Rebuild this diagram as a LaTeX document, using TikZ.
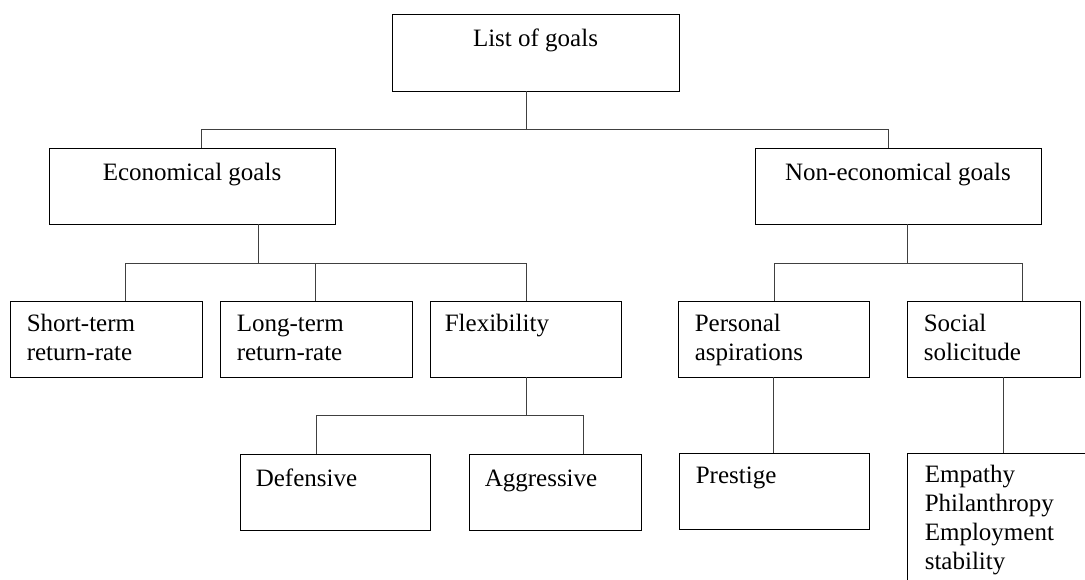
\documentclass[tikz,border=0pt]{standalone}
\usepackage{fontspec}
\setmainfont{Liberation Serif}
\usetikzlibrary{calc}
\begin{document}
\begin{tikzpicture}[x=1pt,y=-1pt,
  box/.style={draw=black, line width=0.8pt, inner sep=0pt, minimum height=76pt},
  link/.style={draw=black!75, line width=0.8pt},
  lbl/.style={inner sep=0pt, font=\fontsize{25}{29}\selectfont, align=left},
]
\useasboundingbox (0,0) rectangle (1085,580);
\clip (0,0) rectangle (1085,580);

% boxes
\node[box, minimum width=287pt, minimum height=77pt] (lg) at (535.5,52.5) {};
\node[box, minimum width=286pt] (eg) at (192,186) {};
\node[box, minimum width=286pt] (ng) at (898,186) {};
\node[box, minimum width=192pt] (st) at (106,339) {};
\node[box, minimum width=192pt] (lt) at (316,339) {};
\node[box, minimum width=191pt] (fl) at (525.5,339) {};
\node[box, minimum width=191pt] (pa) at (773.5,339) {};
\node[box, minimum width=173pt] (ss) at (993.5,339) {};
\node[box, minimum width=190pt] (de) at (335,492) {};
\node[box, minimum width=172pt] (ag) at (555,492) {};
\node[box, minimum width=190pt] (pr) at (774,491) {};
\node[box, minimum width=203pt, minimum height=157pt] (em) at (1008.5,531.5) {};

% texts (base anchor of a multi-line node is its last line)
\node[lbl, anchor=base] (tlg) at ($(lg.north)+(0,33)$) {List of goals};
\node[lbl, anchor=base] (teg) at ($(eg.north)+(0,33)$) {Economical goals};
\node[lbl, anchor=base] (tng) at ($(ng.north)+(0,33)$) {Non-economical goals};
\node[lbl, anchor=base west] (tst) at ($(st.north west)+(17,60)$) {Short-term\\return-rate};
\node[lbl, anchor=base west] (tlt) at ($(lt.north west)+(17,60)$) {Long-term\\return-rate};
\node[lbl, anchor=base west] (tfl) at ($(fl.north west)+(15,31)$) {Flexibility};
\node[lbl, anchor=base west] (tpa) at ($(pa.north west)+(17,60)$) {Personal\\aspirations};
\node[lbl, anchor=base west] (tss) at ($(ss.north west)+(17,60)$) {Social\\solicitude};
\node[lbl, anchor=base west] (tde) at ($(de.north west)+(16,33)$) {Defensive};
\node[lbl, anchor=base west] (tag) at ($(ag.north west)+(16,33)$) {Aggressive};
\node[lbl, anchor=base west] (tpr) at ($(pr.north west)+(17,31)$) {Prestige};
\node[lbl, anchor=base west] (tem) at ($(em.north west)+(18,117)$) {Empathy\\Philanthropy\\Employment\\stability};

% joints
\coordinate (j0) at (526,129);
\coordinate (a1) at (201,129);
\coordinate (a2) at (888,129);
\coordinate (b0) at (258,263);
\coordinate (b1) at (125,263);
\coordinate (b2) at (315,263);
\coordinate (b3) at (526,263);
\coordinate (c0) at (907,263);
\coordinate (c1) at (774,263);
\coordinate (c2) at (1022,263);
\coordinate (d0) at (526,415);
\coordinate (d1) at (316,415);
\coordinate (d2) at (583,415);
\coordinate (e0) at (1003,400);

% connectors
\draw[link] (lg.south -| j0) -- (j0);
\draw[link] (eg.north -| a1) -- (a1) -- (a2) -- (ng.north -| a2);
\draw[link] (eg.south -| b0) -- (b0);
\draw[link] (st.north -| b1) -- (b1) -- (b3) -- (fl.north -| b3);
\draw[link] (lt.north -| b2) -- (b2);
\draw[link] (ng.south -| c0) -- (c0);
\draw[link] (pa.north -| c1) -- (c1) -- (c2) -- (ss.north -| c2);
\draw[link] (fl.south -| d0) -- (d0);
\draw[link] (de.north -| d1) -- (d1) -- (d2) -- (ag.north -| d2);
\draw[link] (pa.south) -- (pa.south |- pr.north);
\draw[link] (ss.south -| e0) -- (em.north -| e0);
\end{tikzpicture}
\end{document}
